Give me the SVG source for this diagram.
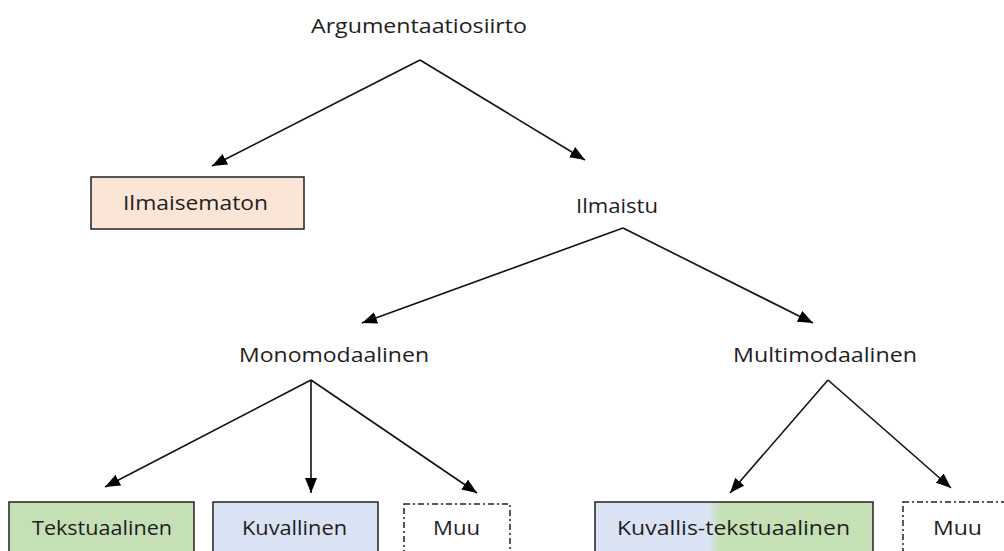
<svg xmlns="http://www.w3.org/2000/svg" width="1004" height="551" viewBox="0 0 1004 551">
<style>
text{font-family:"Open Sans","Liberation Sans",sans-serif;font-size:20px;fill:#1e1e1e;text-anchor:start}
.box{stroke:#222;stroke-width:1.5}
.dash{fill:none;stroke:#222;stroke-width:1.5;stroke-dasharray:6,3,2,3}
.con line{stroke:#111;stroke-width:1.6;marker-end:url(#ah)}
</style>
<defs>
<marker id="ah" markerUnits="userSpaceOnUse" markerWidth="16" markerHeight="12" refX="15" refY="6" orient="auto">
<path d="M0,0 L15,6 L0,12 z" fill="#000"/>
</marker>
<linearGradient id="kt" x1="0" y1="0" x2="1" y2="0">
<stop offset="0.41" stop-color="#DAE3F3"/>
<stop offset="0.45" stop-color="#C5E0B4"/>
</linearGradient>
</defs>
<g id="connectors" class="con">
<line x1="420" y1="60" x2="212" y2="166"/>
<line x1="420" y1="60" x2="585" y2="160"/>
<line x1="623" y1="228" x2="362" y2="323"/>
<line x1="623" y1="228" x2="813" y2="323"/>
<line x1="311" y1="380" x2="105" y2="487"/>
<line x1="311" y1="380" x2="311" y2="493"/>
<line x1="311" y1="380" x2="477" y2="493"/>
<line x1="828" y1="380" x2="730" y2="493"/>
<line x1="828" y1="380" x2="951" y2="488"/>
</g>
<g id="n-argumentaatiosiirto"><text x="311" y="33" textLength="216" lengthAdjust="spacingAndGlyphs">Argumentaatiosiirto</text></g>
<g id="n-ilmaisematon"><rect class="box" x="91" y="177" width="213" height="52" fill="#FBE5D6"/><text x="123" y="210" textLength="145" lengthAdjust="spacingAndGlyphs">Ilmaisematon</text></g>
<g id="n-ilmaistu"><text x="576" y="213" textLength="82" lengthAdjust="spacingAndGlyphs">Ilmaistu</text></g>
<g id="n-monomodaalinen"><text x="239" y="362" textLength="190" lengthAdjust="spacingAndGlyphs">Monomodaalinen</text></g>
<g id="n-multimodaalinen"><text x="733" y="362" textLength="184" lengthAdjust="spacingAndGlyphs">Multimodaalinen</text></g>
<g id="n-tekstuaalinen"><rect class="box" x="9" y="502" width="185" height="60" fill="#C5E0B4"/><text x="32" y="535" textLength="140" lengthAdjust="spacingAndGlyphs">Tekstuaalinen</text></g>
<g id="n-kuvallinen"><rect class="box" x="213" y="502" width="165" height="60" fill="#DAE3F3"/><text x="242" y="535" textLength="105" lengthAdjust="spacingAndGlyphs">Kuvallinen</text></g>
<g id="n-muu1"><rect class="dash" x="404" y="504" width="106" height="60"/><text x="433" y="535" textLength="47" lengthAdjust="spacingAndGlyphs">Muu</text></g>
<g id="n-kuvallis-tekstuaalinen"><rect class="box" x="595" y="502" width="278" height="60" fill="url(#kt)"/><text x="617" y="535" textLength="233" lengthAdjust="spacingAndGlyphs">Kuvallis-tekstuaalinen</text></g>
<g id="n-muu2"><rect class="dash" x="903" y="502" width="120" height="60"/><text x="933" y="535" textLength="49" lengthAdjust="spacingAndGlyphs">Muu</text></g>
</svg>
